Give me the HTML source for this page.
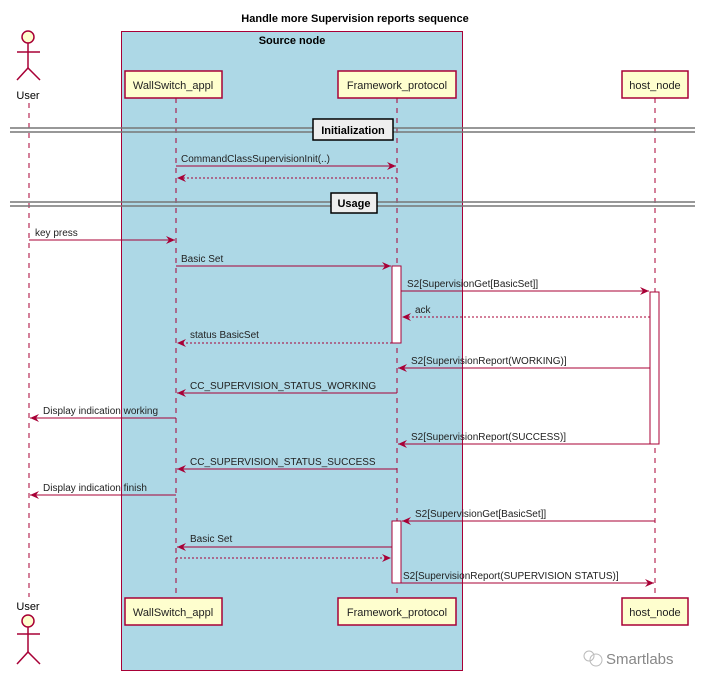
<!DOCTYPE html>
<html><head><meta charset="utf-8"><style>
html,body{margin:0;padding:0;background:#fff;}
svg{display:block;font-family:"Liberation Sans",sans-serif;}
</style></head><body>
<svg width="711" height="686" viewBox="0 0 711 686" xmlns="http://www.w3.org/2000/svg">
<defs>
<marker id="a" markerWidth="10" markerHeight="10" refX="9" refY="5" orient="auto" markerUnits="userSpaceOnUse">
<path d="M0,1 L9,5 L0,9 L3,5 Z" fill="#A80036"/></marker>
</defs>
<text x="355" y="22" text-anchor="middle" font-size="11" font-weight="bold">Handle more Supervision reports sequence</text>
<rect x="121.5" y="31.5" width="341" height="639" fill="#ADD8E6" stroke="#A80036" stroke-width="1"/>
<text x="292" y="44" text-anchor="middle" font-size="11" font-weight="bold">Source node</text>
<g stroke="#A80036" stroke-width="1" stroke-dasharray="5,5">
<line x1="29" y1="103" x2="29" y2="597"/>
<line x1="176" y1="98" x2="176" y2="598"/>
<line x1="397" y1="98" x2="397" y2="598"/>
<line x1="655" y1="98" x2="655" y2="598"/>
</g>
<!-- actors -->
<g stroke="#A80036" stroke-width="1.5" fill="none">
<circle cx="28" cy="37" r="6" fill="#FEFECE"/>
<line x1="28" y1="43" x2="28" y2="68"/><line x1="17" y1="52" x2="40" y2="52"/>
<path d="M17,80 L28,68 L40,80"/>
<circle cx="28" cy="621" r="6" fill="#FEFECE"/>
<line x1="28" y1="627" x2="28" y2="652"/><line x1="17" y1="634" x2="40" y2="634"/>
<path d="M17,664 L28,652 L40,664"/>
</g>
<text x="28" y="99" text-anchor="middle" font-size="11">User</text>
<text x="28" y="610" text-anchor="middle" font-size="11">User</text>
<!-- participants -->
<g fill="#FEFECE" stroke="#A80036" stroke-width="1.5">
<rect x="125" y="71" width="97" height="27"/><rect x="338" y="71" width="118" height="27"/><rect x="622" y="71" width="66" height="27"/>
<rect x="125" y="598" width="97" height="27"/><rect x="338" y="598" width="118" height="27"/><rect x="622" y="598" width="66" height="27"/>
</g>
<g font-size="11" text-anchor="middle" fill="#222">
<text x="173" y="89">WallSwitch_appl</text><text x="397" y="89">Framework_protocol</text><text x="655" y="89">host_node</text>
<text x="173" y="616">WallSwitch_appl</text><text x="397" y="616">Framework_protocol</text><text x="655" y="616">host_node</text>
</g>
<!-- dividers -->
<g stroke="#777" stroke-width="1.5">
<line x1="10" y1="128" x2="695" y2="128"/><line x1="10" y1="132" x2="695" y2="132"/>
<line x1="10" y1="202" x2="695" y2="202"/><line x1="10" y1="206" x2="695" y2="206"/>
</g>
<rect x="313" y="119" width="80" height="21" fill="#EEE" stroke="#000" stroke-width="1.5"/>
<text x="353" y="134" text-anchor="middle" font-size="11" font-weight="bold">Initialization</text>
<rect x="331" y="193" width="46" height="20" fill="#EEE" stroke="#000" stroke-width="1.5"/>
<text x="354" y="207" text-anchor="middle" font-size="11" font-weight="bold">Usage</text>
<!-- activations -->
<g fill="#fff" stroke="#A80036" stroke-width="1">
<rect x="392" y="266" width="9" height="77"/>
<rect x="650" y="292" width="9" height="152"/>
<rect x="392" y="521" width="9" height="62"/>
</g>
<!-- messages -->
<g stroke="#A80036" stroke-width="1" fill="none" marker-end="url(#a)">
<line x1="176" y1="166" x2="396" y2="166"/>
<line x1="397" y1="178" x2="177" y2="178" stroke-dasharray="2,2"/>
<line x1="29" y1="240" x2="175" y2="240"/>
<line x1="176" y1="266" x2="391" y2="266"/>
<line x1="401" y1="291" x2="649" y2="291"/>
<line x1="650" y1="317" x2="402" y2="317" stroke-dasharray="2,2"/>
<line x1="392" y1="343" x2="177" y2="343" stroke-dasharray="2,2"/>
<line x1="650" y1="368" x2="398" y2="368"/>
<line x1="397" y1="393" x2="177" y2="393"/>
<line x1="176" y1="418" x2="30" y2="418"/>
<line x1="650" y1="444" x2="398" y2="444"/>
<line x1="397" y1="469" x2="177" y2="469"/>
<line x1="176" y1="495" x2="30" y2="495"/>
<line x1="655" y1="521" x2="402" y2="521"/>
<line x1="392" y1="547" x2="177" y2="547"/>
<line x1="176" y1="558" x2="391" y2="558" stroke-dasharray="2,2"/>
<line x1="401" y1="583" x2="654" y2="583"/>
</g>
<g font-size="10" fill="#222">
<text x="181" y="162">CommandClassSupervisionInit(..)</text>
<text x="35" y="236">key press</text>
<text x="181" y="262">Basic Set</text>
<text x="407" y="287">S2[SupervisionGet[BasicSet]]</text>
<text x="415" y="313">ack</text>
<text x="190" y="338">status BasicSet</text>
<text x="411" y="364">S2[SupervisionReport(WORKING)]</text>
<text x="190" y="389">CC_SUPERVISION_STATUS_WORKING</text>
<text x="43" y="414">Display indication working</text>
<text x="411" y="440">S2[SupervisionReport(SUCCESS)]</text>
<text x="190" y="465">CC_SUPERVISION_STATUS_SUCCESS</text>
<text x="43" y="491">Display indication finish</text>
<text x="415" y="517">S2[SupervisionGet[BasicSet]]</text>
<text x="190" y="542">Basic Set</text>
<text x="403" y="579">S2[SupervisionReport(SUPERVISION STATUS)]</text>
</g>
<g fill="none" stroke="#bbb" stroke-width="1"><circle cx="589" cy="656" r="5"/><circle cx="596" cy="660" r="6"/></g>
<text x="606" y="664" font-size="15" fill="#888">Smartlabs</text>
</svg>
</body></html>
